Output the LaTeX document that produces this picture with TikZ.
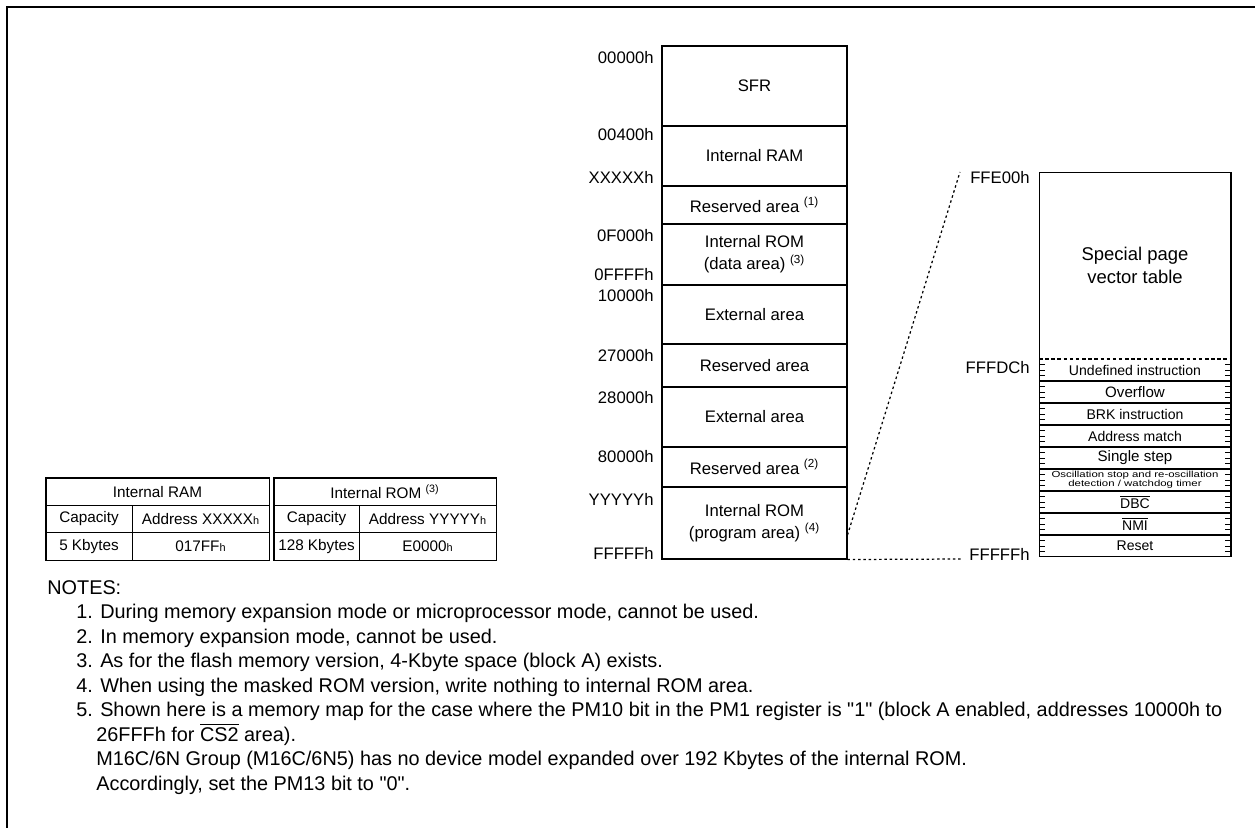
\documentclass[tikz,border=0pt]{standalone}
\usepackage{fontspec}
\setmainfont{Liberation Sans}
\usepackage{graphicx}
\newcommand{\smallh}{{\fontsize{6.2}{7}\selectfont h}}
\newcommand{\overbar}[1]{$\overline{\mbox{#1}}$}

\begin{document}
\begin{tikzpicture}[x=0.02cm,y=-0.02cm,
	area/.style={rectangle,draw,line width=0.6pt,minimum width=3.7cm,inner sep=0pt,align=center,font=\fontsize{9.5}{12.5}\selectfont},
	addr/.style={anchor=east,inner sep=0pt,font=\fontsize{9.5}{11}\selectfont},
	vect/.style={inner sep=0pt,align=center,font=\fontsize{8}{9}\selectfont},
	cell/.style={rectangle,draw,line width=0.5pt,minimum height=0.547cm,inner sep=0pt,font=\fontsize{8.7}{10}\selectfont},
	note/.style={anchor=base west,inner sep=0pt,font=\fontsize{11.3}{13.9}\selectfont},
	link/.style={line width=0.7pt,dash pattern=on 1.4pt off 1.6pt}]

	\useasboundingbox (0,0) rectangle (1255,828);
	\draw[line width=1.1pt] (1255,7) -- (7,7) -- (7,828);

	% memory map
	\node (sfr) at (754.5,86) [area,minimum height=1.6cm] {SFR};
	\node (ram) at (754.5,156) [area,minimum height=1.2cm] {Internal RAM};
	\node (rsv1) at (754.5,205) [area,minimum height=0.76cm] {Reserved area \textsuperscript{(1)}};
	\node (romd) at (754.5,254.5) [area,minimum height=1.22cm] {Internal ROM\\(data area) \textsuperscript{(3)}};
	\node (ext1) at (754.5,314.5) [area,minimum height=1.18cm] {External area};
	\node (rsv2) at (754.5,365.5) [area,minimum height=0.86cm] {Reserved area};
	\node (ext2) at (754.5,417) [area,minimum height=1.2cm] {External area};
	\node (rsv3) at (754.5,467) [area,minimum height=0.8cm] {Reserved area \textsuperscript{(2)}};
	\node (romp) at (754.5,523) [area,minimum height=1.44cm] {Internal ROM\\(program area) \textsuperscript{(4)}};

	\node (a0) at (654,58) [addr] {00000h};
	\node (a1) at (654,135) [addr] {00400h};
	\node (a2) at (654,177) [addr] {XXXXXh};
	\node (a3) at (654,236) [addr] {0F000h};
	\node (a4) at (654,275) [addr] {0FFFFh};
	\node (a5) at (654,296) [addr] {10000h};
	\node (a6) at (654,356) [addr] {27000h};
	\node (a7) at (654,398) [addr] {28000h};
	\node (a8) at (654,457) [addr] {80000h};
	\node (a9) at (654,499) [addr] {YYYYYh};
	\node (a10) at (654,553) [addr] {FFFFFh};

	% vector table
	\node (vtab) at (1135,364.5) [rectangle,draw,line width=0.6pt,minimum width=3.84cm,minimum height=7.7cm] {};
	\node (spec) at (1135,265) [vect,font=\fontsize{10.5}{13}\selectfont] {Special page\\vector table};
	\draw[line width=0.6pt,dash pattern=on 2pt off 1.5pt] (1039,359) -- (1231,359);
	\foreach \r in {1,...,8}
		\draw[line width=0.6pt] (1039,{359+22*\r}) -- (1231,{359+22*\r});
	\foreach \n in {1,...,35} {
		\draw[line width=0.5pt] (1039,{359+5.5*\n}) -- ++(6,0);
		\draw[line width=0.5pt] (1231,{359+5.5*\n}) -- ++(-6,0);
	}
	\node (v0) at (1135,370) [vect] {Undefined instruction};
	\node (v1) at (1135,392) [vect,font=\fontsize{8.6}{9}\selectfont] {Overflow};
	\node (v2) at (1135,414) [vect] {BRK instruction};
	\node (v3) at (1135,436) [vect] {Address match};
	\node (v4) at (1135,458) [vect,font=\fontsize{8.6}{9}\selectfont] {Single step};
	\node (v5) at (1135,480) [vect,font=\fontsize{5}{5.6}\selectfont]
		{\scalebox{1.3}[1]{\begin{tabular}{@{}c@{}}Oscillation stop and re-oscillation\\detection / watchdog timer\end{tabular}}};
	\node (v6) at (1135,502) [vect] {\overbar{DBC}};
	\node (v7) at (1135,524) [vect] {\overbar{NMI}};
	\node (v8) at (1135,546) [vect] {Reset};

	\node (b0) at (1030,178) [addr] {FFE00h};
	\node (b1) at (1030,368) [addr] {FFFDCh};
	\node (b2) at (1030,554) [addr] {FFFFFh};

	\coordinate (zoomtop) at (960,172);
	\coordinate (zoombot) at (962,559);
	\draw[link] ([yshift=-0.24cm]romp.east) -- (zoomtop);
	\draw[link] (romp.south east) -- (zoombot);

	% capacity tables
	\node (ramt) at (157.5,491.7) [cell,minimum width=4.46cm] {Internal RAM};
	\node (ramc) at (89,519) [cell,minimum width=1.72cm] {Capacity};
	\node (rama) at (200.5,519) [cell,minimum width=2.74cm] {Address XXXXX\smallh};
	\node (ramcv) at (89,546.3) [cell,minimum width=1.72cm] {5 Kbytes};
	\node (ramav) at (200.5,546.3) [cell,minimum width=2.74cm] {017FF\smallh};
	\draw[line width=1pt] (ramt.north west) rectangle (ramav.south east);

	\node (romt) at (385,491.7) [cell,minimum width=4.44cm] {Internal ROM \textsuperscript{(3)}};
	\node (romc) at (316.5,519) [cell,minimum width=1.7cm] {Capacity};
	\node (roma) at (427.5,519) [cell,minimum width=2.74cm] {Address YYYYY\smallh};
	\node (romcv) at (316.5,546.3) [cell,minimum width=1.7cm] {128 Kbytes};
	\node (romav) at (427.5,546.3) [cell,minimum width=2.74cm] {E0000\smallh};
	\draw[line width=1pt] (romt.north west) rectangle (romav.south east);

	% notes
	\node (notes) at (47,594) [note] {NOTES:};
	\node (n1) at (76,618.5) [note] {1. During memory expansion mode or microprocessor mode, cannot be used.};
	\node (n2) at (76,643) [note] {2. In memory expansion mode, cannot be used.};
	\node (n3) at (76,667.5) [note] {3. As for the flash memory version, 4-Kbyte space (block A) exists.};
	\node (n4) at (76,692) [note] {4. When using the masked ROM version, write nothing to internal ROM area.};
	\node (n5) at (76,716.5) [note] {5. Shown here is a memory map for the case where the PM10 bit in the PM1 register is \textquotedbl 1\textquotedbl\ (block A enabled, addresses 10000h to};
	\node (n5a) at (96,741) [note] {26FFFh for \overbar{CS2} area).};
	\node (n5b) at (96,765.5) [note] {M16C/6N Group (M16C/6N5) has no device model expanded over 192 Kbytes of the internal ROM.};
	\node (n5c) at (96,790) [note] {Accordingly, set the PM13 bit to \textquotedbl 0\textquotedbl.};
\end{tikzpicture}
\end{document}
